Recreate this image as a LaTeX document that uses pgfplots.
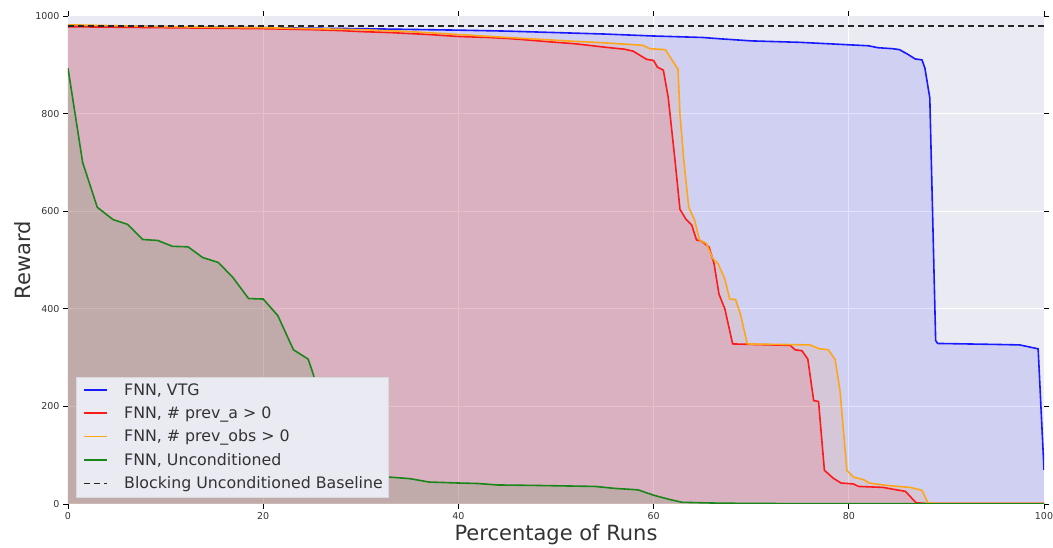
\documentclass[border=0pt]{standalone}
\usepackage{pgfplots}
\pgfplotsset{compat=1.18}
\usepackage{pgfplotstable}
\usepackage{fontspec}
\setmainfont{DejaVu Sans}
\definecolor{bg}{HTML}{EAEAF2}
\definecolor{txt}{HTML}{333333}
\definecolor{mblue}{HTML}{1A1AFF}
\definecolor{mred}{HTML}{FF1A1A}
\definecolor{morange}{HTML}{FFA51A}
\definecolor{mgreen}{HTML}{1A861A}

\pgfplotstableread{
x y
0 980
10 978
20 976
30 974
40 971
45 969
50 966
55 963
60 959
65 956
67 953
70 949
75 946
78 943
80 941
82 939
83 935
84.5 933
85.2 931
86 922
86.8 912
87.5 910
87.8 893
88.3 832
88.9 335
89.1 329
95 327
97.5 326
99.4 318
100 70
}\blueT

\pgfplotstableread{
x y
0 978
5 977
10 976
15 975
20 974
25 972
28 970
30 968
33 966
35 964
37 962
40 958
43 956
45 954
47 951
49.4 947
52 943
55.5 935
57 932
57.9 928
59.3 911
60 909
60.4 895
61 889
61.5 833
62.2 703
62.7 604
63.3 584
63.9 572
64.4 541
64.9 539
65.7 526
66.2 492
66.7 430
66.9 420
67.3 400
68.1 328
74 325
74.5 316
75.2 314
75.8 297
76.4 212
76.9 210
77.5 69
78.4 53
79.2 43
80.5 41
81 36
83.5 34
84.6 30
85.8 26
86.4 13
86.9 2.5
88 1
100 1
}\redT

\pgfplotstableread{
x y
0 982
5 980
10 978
20 976
30 972
35 968
40 962
45 956
49.4 951
52 948
55 945
58.9 940
59.6 933
61.2 931
62.5 891
62.7 799
63.1 703
63.6 608
64.2 582
64.7 541
65.4 534
66.1 502
66.6 493
67.3 461
67.8 420
68.4 419
68.9 389
69.6 328
76 326
77 318
77.9 316
78.6 296
79.1 232
79.8 69
80.5 55
81.5 50
82.1 43
83.9 38
86.3 34
87.5 28
88.1 2.5
89 1
100 1
}\orangeT

\pgfplotstableread{
x y
0 893
1.5 700
3.0 608
4.6 583
6.1 573
7.65 542
9.2 540
10.7 528
12.3 527
13.8 505
15.4 495
16.9 464
18.5 421
20.0 420
21.5 386
23.1 316
24.6 297
25.1 268
26 200
27 130
28 85
29.5 62
31 57
33 55
35 52
37 45
40 43
42 42
44 39
48 38
54 36
56 32
58.4 29
60 18
61.5 10
62.9 3.5
66 2
70 1
100 0
}\greenT

\begin{document}
\begin{tikzpicture}
\path[use as bounding box] (-68pt,-44pt) rectangle (985pt,504pt);
\begin{axis}[
  width=976pt, height=488pt, scale only axis,
  xmin=0, xmax=100, ymin=0, ymax=1000,
  axis background/.style={fill=bg},
  axis line style={draw=none},
  grid=major, major grid style={white, line width=1pt},
  tick align=outside, major tick length=5pt,
  tick style={black, line width=0.8pt},
  xtick={0,20,...,100}, ytick={0,200,...,1000},
  /pgf/number format/assume math mode=true,
  /pgf/number format/1000 sep={},
  ticklabel style={font=\fontsize{9.5}{11}\selectfont, text=txt},
  xlabel={Percentage of Runs}, ylabel={Reward},
  label style={font=\fontsize{21}{24}\selectfont, text=txt},
  xlabel style={yshift=2pt},
  ylabel style={yshift=-2pt},
  legend cell align=left,
  legend image code/.code={\draw[#1] (5pt,0pt) -- (28pt,0pt); \path[draw=none] (0pt,0pt) -- (43pt,0pt);},
  legend style={at={(0.0082,0.0143)}, anchor=south west, fill=bg,
    draw=white!85!black, font=\fontsize{15.8}{19}\selectfont,
    inner xsep=3pt, inner ysep=4.5pt, row sep=6pt,
    nodes={text=txt}},
]
\addplot[draw=none, fill=blue, fill opacity=0.11, forget plot] table {\blueT} \closedcycle;
\addplot[draw=none, fill=orange, fill opacity=0.11, forget plot] table {\orangeT} \closedcycle;
\addplot[draw=none, fill=red, fill opacity=0.11, forget plot] table {\redT} \closedcycle;
\addplot[draw=none, fill=green!50!black, fill opacity=0.11, forget plot] table {\greenT} \closedcycle;

\addplot[draw=mblue, line width=1.6pt] table {\blueT};
\addlegendentry{FNN, VTG}
\addplot[draw=mred, line width=1.6pt] table {\redT};
\addlegendentry{FNN, \# prev\_a > 0}
\addplot[draw=morange, line width=1.6pt] table {\orangeT};
\addlegendentry{FNN, \# prev\_obs > 0}
\addplot[draw=mgreen, line width=1.6pt] table {\greenT};
\addlegendentry{FNN, Unconditioned}
\addplot[draw=black!85, line width=1.8pt, dash pattern=on 6pt off 4pt] coordinates {(0,980) (100,980)};
\addlegendentry{Blocking Unconditioned Baseline}
\end{axis}
\end{tikzpicture}
\end{document}
